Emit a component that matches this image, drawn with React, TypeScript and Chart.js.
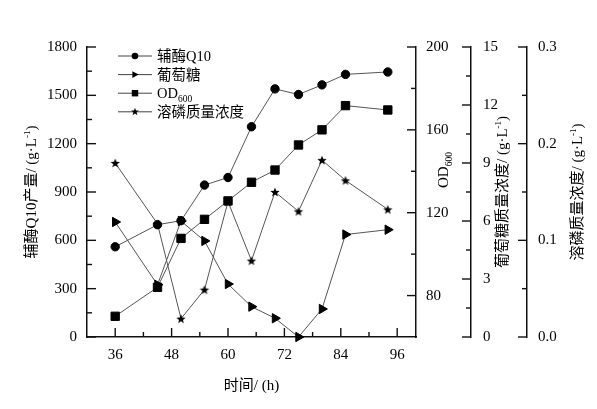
import React, { useEffect, useRef } from 'react';
import { Chart, registerables } from 'chart.js';

Chart.register(...registerables);

// ---- data ----
const hours = [36, 45, 50, 55, 60, 65, 70, 75, 80, 85, 94];
const coq10 = [560, 697, 722, 943, 990, 1305, 1540, 1505, 1565, 1630, 1645];
const glucose = [5.95, 2.7, 6.0, 4.97, 2.74, 1.57, 0.97, 0, 1.45, 5.3, 5.55];
const od600 = [70, 84, 107.6, 116.8, 125.7, 134.7, 140.6, 152.7, 160, 171.7, 169.6];
const phosphate = [0.18, 0.117, 0.019, 0.049, 0.14, 0.079, 0.15, 0.13, 0.183, 0.162, 0.132];

// ---- tick values ----
const xMajor = [36, 48, 60, 72, 84, 96];
const xMinor = [42, 54, 66, 78, 90];
const leftMajor = [0, 300, 600, 900, 1200, 1500, 1800];
const leftMinor = [150, 450, 750, 1050, 1350, 1650];
const odMajor = [80, 120, 160, 200];
const odMinor = [100, 140, 180];
const gluMajor = [0, 3, 6, 9, 12, 15];
const gluMinor = [1.5, 4.5, 7.5, 10.5, 13.5];
const phMajor = [0, 0.1, 0.2, 0.3];
const phMinor = [0.05, 0.15, 0.25];

// ---- labels ----
const legendMain = ['辅酶Q10', '葡萄糖', 'OD', '溶磷质量浓度'];
const legendSub = ['', '', '600', ''];
const xTitle = '时间/ (h)';
const leftTitle = '辅酶Q10产量/ (g·L';
const gluTitle = '葡萄糖质量浓度/ (g·L';
const phTitle = '溶磷质量浓度/ (g·L';

const FAMILY = "'Liberation Serif', 'Noto Sans CJK SC', serif";

type Kind = 'circle' | 'rect' | 'triangle' | 'star';
const kinds: Kind[] = ['circle', 'triangle', 'rect', 'star'];

function starPath(ctx: CanvasRenderingContext2D, cx: number, cy: number, ro: number, ri: number) {
  ctx.beginPath();
  for (let i = 0; i < 10; i++) {
    const a = -Math.PI / 2 + (i * Math.PI) / 5;
    const r = i % 2 === 0 ? ro : ri;
    const px = cx + Math.cos(a) * r;
    const py = cy + Math.sin(a) * r;
    if (i === 0) ctx.moveTo(px, py);
    else ctx.lineTo(px, py);
  }
  ctx.closePath();
}

function makeStar(r: number): HTMLCanvasElement {
  const c = document.createElement('canvas');
  const size = Math.ceil(r * 2 + 2);
  c.width = size;
  c.height = size;
  const ctx = c.getContext('2d')!;
  starPath(ctx, size / 2, size / 2 + 0.5, r, r * 0.42);
  ctx.fillStyle = '#000';
  ctx.fill();
  return c;
}

function drawMarker(ctx: CanvasRenderingContext2D, kind: Kind, x: number, y: number, s: number) {
  ctx.fillStyle = '#000';
  if (kind === 'circle') {
    ctx.beginPath();
    ctx.arc(x, y, s, 0, Math.PI * 2);
    ctx.fill();
  } else if (kind === 'rect') {
    ctx.fillRect(x - s, y - s, 2 * s, 2 * s);
  } else if (kind === 'triangle') {
    ctx.beginPath();
    ctx.moveTo(x + s * 1.1, y);
    ctx.lineTo(x - s * 0.8, y - s * 1.05);
    ctx.lineTo(x - s * 0.8, y + s * 1.05);
    ctx.closePath();
    ctx.fill();
  } else {
    starPath(ctx, x, y, s * 1.25, s * 0.52);
    ctx.fill();
  }
}

type Seg = { t: string; size: number; dy?: number };

function drawRich(
  ctx: CanvasRenderingContext2D,
  segs: Seg[],
  x: number,
  y: number,
  rot: number,
  align: 'center' | 'left'
) {
  ctx.save();
  ctx.translate(x, y);
  ctx.rotate(rot);
  ctx.fillStyle = '#000';
  ctx.textAlign = 'left';
  ctx.textBaseline = 'alphabetic';
  const widths = segs.map((s) => {
    ctx.font = `${s.size}px ${FAMILY}`;
    return ctx.measureText(s.t).width;
  });
  const total = widths.reduce((a, b) => a + b, 0);
  let cx = align === 'center' ? -total / 2 : 0;
  const base = segs[0].size * 0.36;
  segs.forEach((s, i) => {
    ctx.font = `${s.size}px ${FAMILY}`;
    ctx.fillText(s.t, cx, base + (s.dy || 0));
    cx += widths[i];
  });
  ctx.restore();
}

const tickSets = [
  { id: 'x', major: xMajor, minor: xMinor },
  { id: 'y', major: leftMajor, minor: leftMinor },
  { id: 'yOD', major: odMajor, minor: odMinor },
  { id: 'yGlu', major: gluMajor, minor: gluMinor },
  { id: 'yPh', major: phMajor, minor: phMinor },
];

const decorPlugin = {
  id: 'decor',
  afterDraw(chart: any) {
    const ctx: CanvasRenderingContext2D = chart.ctx;
    ctx.save();
    ctx.strokeStyle = '#111';
    ctx.lineWidth = 1.4;
    for (const set of tickSets) {
      const sc = chart.scales[set.id];
      const all = [
        ...set.major.map((v) => ({ v, len: 9 })),
        ...set.minor.map((v) => ({ v, len: 5 })),
      ];
      for (const { v, len } of all) {
        const p = sc.getPixelForValue(v);
        ctx.beginPath();
        if (set.id === 'x') {
          ctx.moveTo(p, sc.top);
          ctx.lineTo(p, sc.top - len);
        } else if (set.id === 'y') {
          ctx.moveTo(sc.right, p);
          ctx.lineTo(sc.right + len, p);
        } else {
          ctx.moveTo(sc.left, p);
          ctx.lineTo(sc.left - len, p);
        }
        ctx.stroke();
      }
    }
    ctx.restore();

    // legend
    const ca = chart.chartArea;
    const rowY0 = ca.top + 9;
    const rowGap = 18.6;
    const lx0 = ca.left + 31;
    const lx1 = ca.left + 65;
    const mx = (lx0 + lx1) / 2;
    const legendSizes = [3.3, 3.3, 3.2, 3.3];
    kinds.forEach((k, i) => {
      const yy = rowY0 + i * rowGap;
      ctx.save();
      ctx.strokeStyle = '#444';
      ctx.lineWidth = 1;
      ctx.beginPath();
      ctx.moveTo(lx0, yy);
      ctx.lineTo(lx1, yy);
      ctx.stroke();
      drawMarker(ctx, k, mx, yy, legendSizes[i]);
      ctx.restore();
      const segs: Seg[] = [{ t: legendMain[i], size: 14.5 }];
      if (legendSub[i]) segs.push({ t: legendSub[i], size: 9.5, dy: 3.5 });
      drawRich(ctx, segs, lx1 + 5, yy, 0, 'left');
    });

    // axis titles
    const sx = chart.scales.x;
    const midY = (ca.top + ca.bottom) / 2;
    drawRich(ctx, [{ t: xTitle, size: 15 }], (ca.left + ca.right) / 2, sx.top + 48, 0, 'center');
    const sup = (main: string): Seg[] => [
      { t: main, size: 15 },
      { t: '-1', size: 9, dy: -6 },
      { t: ')', size: 15 },
    ];
    drawRich(ctx, sup(leftTitle), 30.5, midY, -Math.PI / 2, 'center');
    drawRich(
      ctx,
      [
        { t: 'OD', size: 15 },
        { t: '600', size: 9.5, dy: 3.5 },
      ],
      chart.scales.yOD.left + 27,
      ca.top + 123,
      -Math.PI / 2,
      'center'
    );
    drawRich(ctx, sup(gluTitle), chart.scales.yGlu.left + 31, midY, -Math.PI / 2, 'center');
    drawRich(ctx, sup(phTitle), chart.scales.yPh.left + 50, midY, -Math.PI / 2, 'center');
  },
};

function App() {
  const ref = useRef<HTMLCanvasElement | null>(null);

  useEffect(() => {
    document.body.style.margin = '0';
    const canvas = ref.current;
    if (!canvas) return;
    const star = makeStar(4.9);
    const tickFont = { family: FAMILY, size: 15 };
    const mk = (vals: number[]) => hours.map((h, i) => ({ x: h, y: vals[i] }));
    const common = {
      borderColor: '#555',
      borderWidth: 1,
      pointBackgroundColor: '#000',
      pointBorderColor: '#000',
      pointBorderWidth: 1,
      fill: false,
      tension: 0,
      clip: false as const,
    };
    const setTicks = (vals: number[]) => (s: any) => {
      s.ticks = vals.map((v) => ({ value: v }));
    };
    const border = { display: true, color: '#111', width: 1.5 };
    const grid = { display: false, drawTicks: false };

    const chart = new Chart(canvas, {
      type: 'line',
      data: {
        datasets: [
          {
            ...common,
            label: legendMain[0],
            data: mk(coq10),
            yAxisID: 'y',
            pointStyle: 'circle',
            pointRadius: 4.2,
          },
          {
            ...common,
            label: legendMain[1],
            data: mk(glucose),
            yAxisID: 'yGlu',
            pointStyle: 'triangle',
            pointRotation: 90,
            pointRadius: 5.4,
          },
          {
            ...common,
            label: legendMain[2] + legendSub[2],
            data: mk(od600),
            yAxisID: 'yOD',
            pointStyle: 'rect',
            pointRadius: 5.9,
          },
          {
            ...common,
            label: legendMain[3],
            data: mk(phosphate),
            yAxisID: 'yPh',
            pointStyle: star as any,
            pointRadius: 5,
          },
        ],
      },
      options: {
        responsive: false,
        animation: false,
        events: [],
        layout: { padding: { top: 47, left: 0, right: 0, bottom: 0 } },
        plugins: {
          legend: { display: false },
          tooltip: { enabled: false },
        },
        scales: {
          x: {
            type: 'linear',
            position: 'bottom',
            min: 30,
            max: 100,
            afterBuildTicks: setTicks(xMajor),
            afterFit: (s: any) => {
              s.height = 72;
            },
            grid,
            border,
            ticks: {
              padding: 9,
              color: '#000',
              font: tickFont,
              maxRotation: 0,
              autoSkip: false,
              callback: (v: any) => String(v),
            },
          },
          y: {
            type: 'linear',
            position: 'left',
            min: 0,
            max: 1800,
            afterBuildTicks: setTicks(leftMajor),
            afterFit: (s: any) => {
              s.width = 87;
            },
            grid,
            border,
            ticks: {
              padding: 10,
              color: '#000',
              font: tickFont,
              autoSkip: false,
              callback: (v: any) => String(v),
            },
          },
          yOD: {
            type: 'linear',
            position: 'right',
            weight: 1,
            min: 60,
            max: 200,
            afterBuildTicks: setTicks(odMajor),
            afterFit: (s: any) => {
              s.width = 55;
            },
            grid,
            border,
            ticks: {
              padding: 10,
              color: '#000',
              font: tickFont,
              autoSkip: false,
              callback: (v: any) => String(v),
            },
          },
          yGlu: {
            type: 'linear',
            position: 'right',
            weight: 2,
            min: 0,
            max: 15,
            afterBuildTicks: setTicks(gluMajor),
            afterFit: (s: any) => {
              s.width = 56;
            },
            grid,
            border,
            ticks: {
              padding: 12,
              color: '#000',
              font: tickFont,
              autoSkip: false,
              callback: (v: any) => String(v),
            },
          },
          yPh: {
            type: 'linear',
            position: 'right',
            weight: 3,
            min: 0,
            max: 0.3,
            afterBuildTicks: setTicks(phMajor),
            afterFit: (s: any) => {
              s.width = 70;
            },
            grid,
            border,
            ticks: {
              padding: 11,
              color: '#000',
              font: tickFont,
              autoSkip: false,
              callback: (v: any) => Number(v).toFixed(1),
            },
          },
        },
      },
      plugins: [decorPlugin],
    });
    return () => chart.destroy();
  }, []);

  return (
    <div style={{ width: 597, height: 409, position: 'relative', background: '#fff' }}>
      <canvas ref={ref} width={597} height={409} style={{ display: 'block' }} />
    </div>
  );
}

export default App;
